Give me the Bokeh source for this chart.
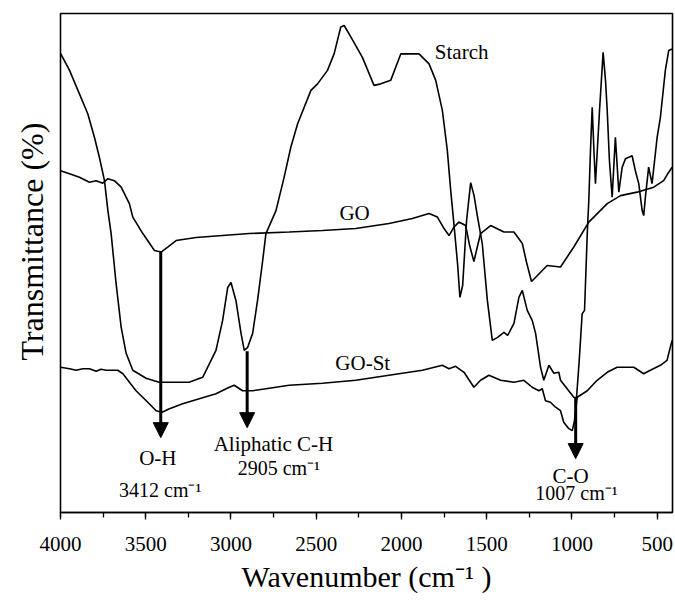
from bokeh.plotting import figure
from bokeh.models import Range1d, SingleIntervalTicker, Arrow, NormalHead, Label, Title
from bokeh.embed import file_html
from bokeh.resources import INLINE

FONT = "Liberation Serif"

# ---- data (y is transmittance in arbitrary %) ----
starch_wn = [4000, 3947, 3889, 3840, 3801, 3772, 3742, 3722, 3703, 3674, 3644, 3615, 3576, 3498,
             3422, 3246, 3166, 3088, 3049, 3019, 3000, 2971, 2941, 2922, 2902, 2873, 2844, 2814,
             2795, 2736, 2688, 2649, 2609, 2531, 2492, 2434, 2395, 2356, 2336, 2297, 2229, 2161,
             2121, 2063, 2004, 1897, 1838, 1799, 1760, 1731, 1711, 1694, 1670, 1657, 1641, 1618,
             1594, 1574, 1555, 1526, 1496, 1467, 1436, 1399, 1377, 1340, 1311, 1291, 1262, 1233,
             1213, 1184, 1165, 1135, 1106, 1077, 1067, 1028, 989, 973, 957, 940, 926, 910, 901,
             891, 881, 871, 862, 838, 817, 803, 793, 780, 764, 745, 725, 705, 686, 647, 628, 608,
             588, 579, 569, 550, 530, 500, 481, 452, 432, 412]
starch_t = [92.0, 88.6, 83.9, 79.9, 75.2, 71.2, 66.5, 60.5, 55.9, 45.9, 37.1, 31.9, 28.5, 26.9,
            26.1, 26.1, 27.1, 32.5, 38.5, 45.1, 46.1, 42.5, 35.9, 32.5, 33.1, 35.9, 42.5, 50.5,
            55.9, 60.5, 67.2, 73.2, 77.9, 84.6, 85.9, 88.6, 91.9, 97.3, 97.6, 95.3, 91.2, 85.6,
            85.9, 86.6, 91.9, 91.9, 89.9, 86.6, 80.6, 72.6, 64.5, 58.5, 49.5, 43.1, 45.5, 58.5,
            66.1, 63.5, 59.5, 53.9, 42.5, 34.5, 35.1, 36.1, 35.5, 37.9, 43.1, 44.5, 40.5, 38.5,
            35.9, 29.1, 26.5, 29.5, 27.9, 28.1, 26.5, 24.8, 23.1, 23.0, 30.5, 39.8, 40.5, 55.9, 62.5,
            72.6, 81.2, 72.6, 65.9, 80.6, 92.2, 86.6, 80.6, 70.5, 63.2, 75.2, 64.2, 69.2, 70.9, 71.5, 68.5, 65.9,
            60.5, 59.5, 63.2, 69.2, 65.9, 75.2, 79.2, 88.6, 92.6, 92.9]

go_wn = [4000, 3947, 3889, 3830, 3791, 3752, 3722, 3684, 3644, 3596, 3576, 3517, 3449, 3410,
         3371, 3322, 3205, 3049, 2893, 2659, 2463, 2268, 2073, 1936, 1838, 1789, 1750, 1721,
         1692, 1663, 1623, 1600, 1575, 1553, 1536, 1477, 1399, 1340, 1291, 1266, 1237, 1208,
         1145, 1067, 989, 901, 793, 715, 618, 520, 462, 434, 412]
go_t = [68.5, 67.9, 67.2, 66.2, 66.5, 66.0, 66.9, 66.5, 65.2, 61.9, 59.2, 55.9, 52.5, 52.2,
        53.2, 54.5, 55.1, 55.5, 55.9, 56.2, 56.5, 56.9, 57.9, 58.9, 59.9, 59.2, 56.9, 55.5,
        57.2, 58.2, 57.5, 53.5, 50.3, 53.5, 55.9, 57.5, 56.2, 56.2, 53.9, 50.1, 46.3, 47.3,
        49.5, 49.2, 53.2, 58.2, 61.9, 63.5, 64.2, 65.2, 66.5, 68.1, 69.2]

gost_wn = [4000, 3947, 3908, 3869, 3830, 3791, 3762, 3732, 3664, 3634, 3557, 3488, 3439, 3404,
           3361, 3283, 3186, 3088, 3010, 2981, 2932, 2873, 2795, 2659, 2463, 2268, 2073, 1877,
           1760, 1721, 1682, 1633, 1575, 1536, 1487, 1418, 1340, 1282, 1233, 1194, 1174, 1155,
           1126, 1096, 1067, 1048, 1018, 998, 985, 969, 910, 852, 793, 735, 637, 579, 540, 481,
           442, 423, 412]
gost_t = [29.1, 28.8, 28.5, 28.8, 28.8, 28.3, 28.7, 28.5, 28.5, 27.8, 24.4, 22.1, 20.4, 20.1,
          20.8, 21.8, 22.8, 23.8, 25.1, 25.5, 24.4, 24.4, 24.8, 25.5, 25.9, 26.5, 27.5, 28.5,
          29.5, 28.8, 29.3, 28.1, 25.1, 26.5, 27.5, 26.5, 26.1, 26.5, 25.1, 24.4, 24.8, 22.4,
          22.1, 21.1, 20.4, 18.1, 16.8, 16.4, 18.4, 23.1, 24.4, 26.5, 28.1, 29.1, 29.1, 27.8, 28.5, 29.5,
          30.5, 33.1, 34.5]

# curve names and where they are written
curve_labels = ["Starch", "GO", "GO-St"]
curve_label_wn = [1647, 2275, 2227]
curve_label_t = [92.2, 60.0, 30.0]

# band assignments: arrow x, arrow start/end, label texts
band_wn = [3412, 2905, 978]
band_start = [52.2, 32.3, 23.0]
band_end = [15.0, 17.0, 10.8]
band_names = ["O-H", "Aliphatic C-H", "C-O"]
band_values = ["3412 cm\u207b\u00b9", "2905 cm\u207b\u00b9", "1007 cm\u207b\u00b9"]
band_name_pos = [(3429, 10.9), (2751, 13.7), (1008, 7.3)]
band_value_pos = [(3415, 4.6), (2719, 8.9), (973, 3.9)]

p = figure(width=675, height=606, output_backend="svg", toolbar_location=None,
           x_range=Range1d(4000, 410), y_range=Range1d(0, 100),
           min_border_left=59, min_border_right=3, min_border_top=13, min_border_bottom=94)
p.background_fill_color = "white"
p.border_fill_color = "white"
p.grid.visible = False
p.outline_line_color = "black"
p.outline_line_width = 1.6

for xs, ys in [(starch_wn, starch_t), (go_wn, go_t), (gost_wn, gost_t)]:
    p.line(xs, ys, line_color="black", line_width=1.6)

xa = p.xaxis[0]
xa.ticker = SingleIntervalTicker(interval=500, num_minor_ticks=2)
xa.axis_line_color = "black"
xa.axis_line_width = 1.6
xa.major_tick_in = 0
xa.major_tick_out = 7
xa.minor_tick_in = 0
xa.minor_tick_out = 5
xa.major_tick_line_width = 1.3
xa.minor_tick_line_width = 1.3
xa.major_label_text_font = FONT
xa.major_label_text_font_size = "21px"
xa.major_label_text_color = "black"
xa.major_label_standoff = 17
xa.axis_label = "Wavenumber (cm\u207b\u00b9 )"
xa.axis_label_text_font = FONT
xa.axis_label_text_font_size = "30px"
xa.axis_label_text_font_style = "normal"
xa.axis_label_text_color = "black"
xa.axis_label_standoff = 6

p.yaxis.visible = False
p.add_layout(Title(text="Transmittance (%)", align="left", offset=152,
                   text_font=FONT, text_font_size="32px", text_font_style="normal",
                   text_color="black", standoff=22), "left")

for t, x, y in zip(curve_labels, curve_label_wn, curve_label_t):
    p.add_layout(Label(x=x, y=y, text=t, text_font=FONT, text_font_size="21px",
                       text_align="center", text_baseline="middle", text_color="black"))

for x, y0, y1 in zip(band_wn, band_start, band_end):
    p.add_layout(Arrow(x_start=x, y_start=y0, x_end=x, y_end=y1, line_width=3, line_color="black",
                       end=NormalHead(size=15, fill_color="black", line_color="black", line_width=1)))

for t, (x, y) in zip(band_names, band_name_pos):
    p.add_layout(Label(x=x, y=y, text=t, text_font=FONT, text_font_size="21px",
                       text_align="center", text_baseline="middle", text_color="black"))
for t, (x, y) in zip(band_values, band_value_pos):
    p.add_layout(Label(x=x, y=y, text=t, text_font=FONT, text_font_size="20px",
                       text_align="center", text_baseline="middle", text_color="black"))

open("out.html", "w").write(file_html(p, INLINE))
